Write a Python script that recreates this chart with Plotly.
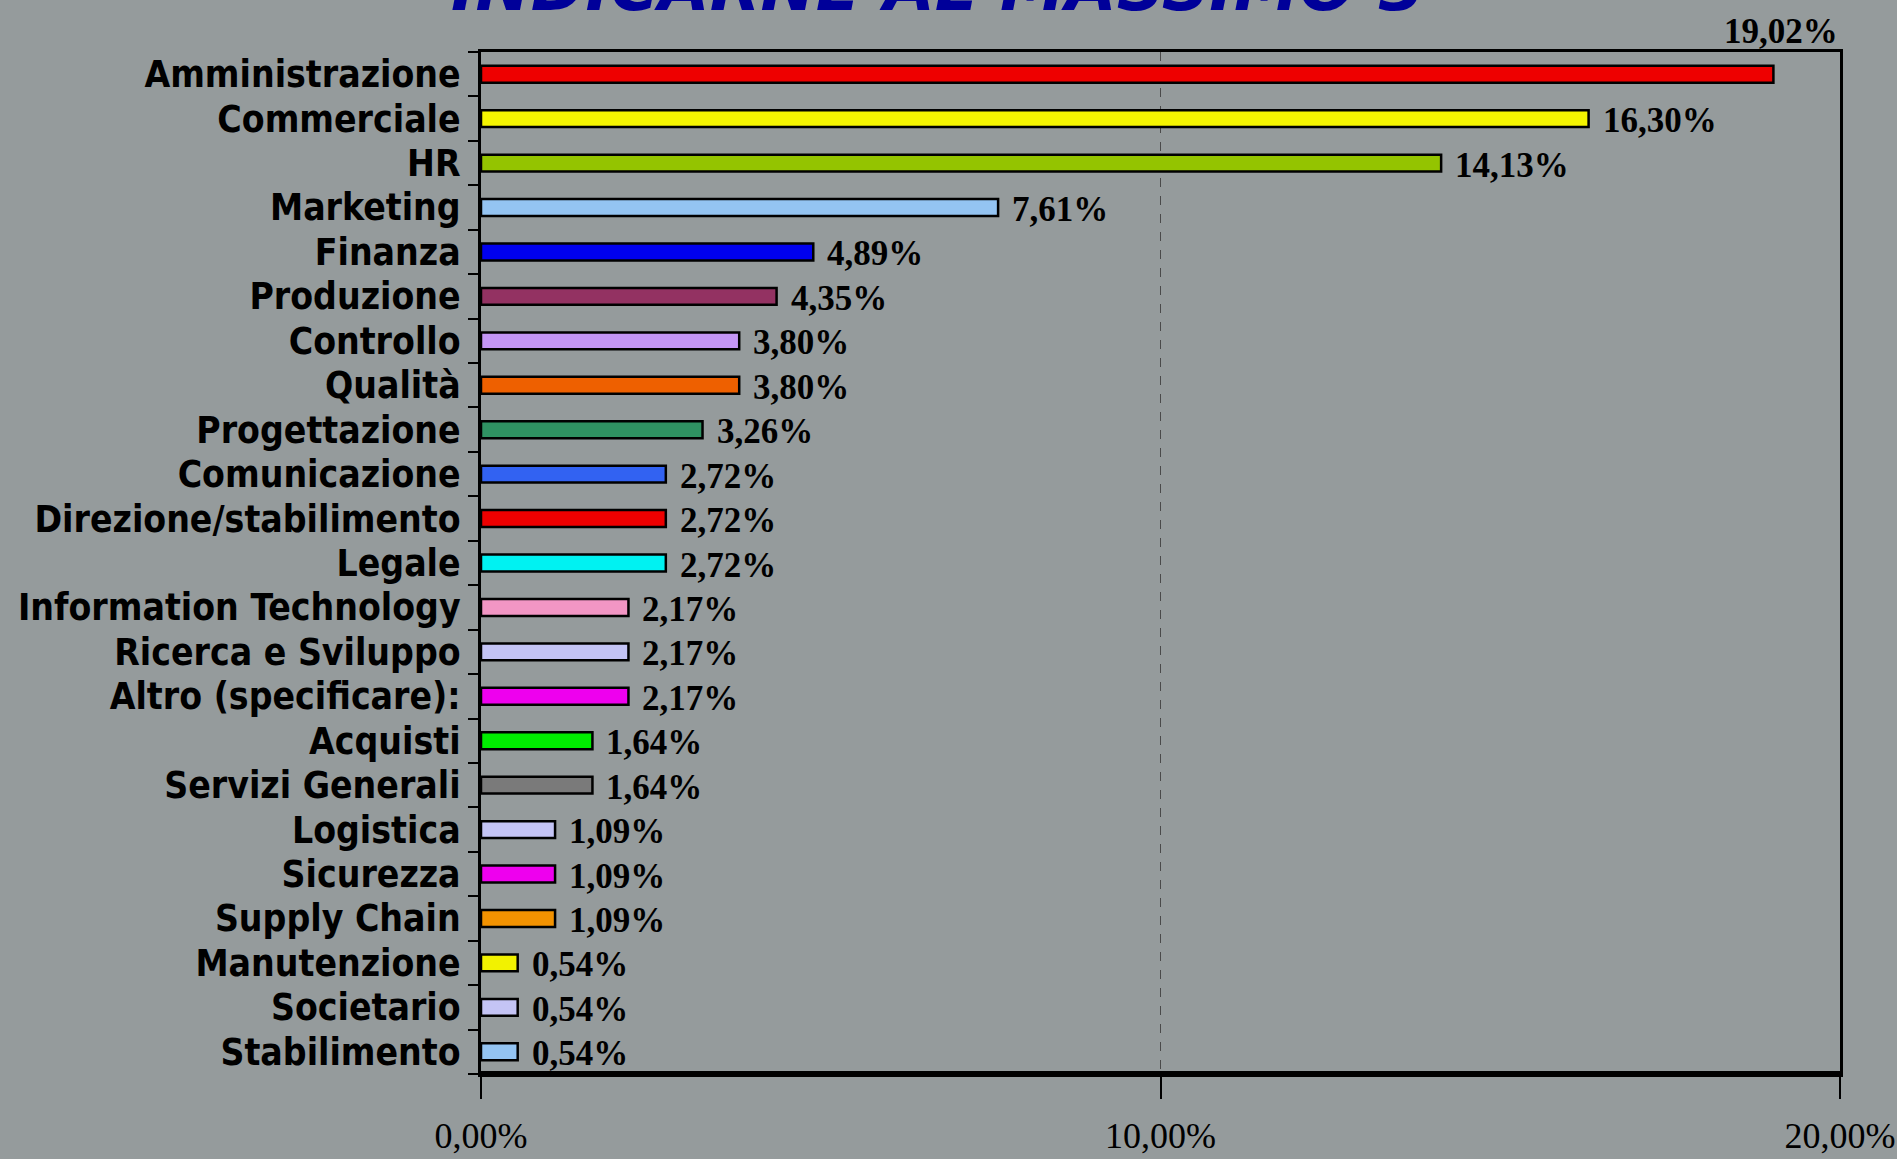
import plotly.graph_objects as go

categories = [
    "Amministrazione", "Commerciale", "HR", "Marketing", "Finanza", "Produzione",
    "Controllo", "Qualità", "Progettazione", "Comunicazione", "Direzione/stabilimento",
    "Legale", "Information Technology", "Ricerca e Sviluppo", "Altro (specificare):",
    "Acquisti", "Servizi Generali", "Logistica", "Sicurezza", "Supply Chain",
    "Manutenzione", "Societario", "Stabilimento",
]
values = [19.02, 16.30, 14.13, 7.61, 4.89, 4.35, 3.80, 3.80, 3.26, 2.72, 2.72, 2.72,
          2.17, 2.17, 2.17, 1.64, 1.64, 1.09, 1.09, 1.09, 0.54, 0.54, 0.54]
value_labels = ["19,02%", "16,30%", "14,13%", "7,61%", "4,89%", "4,35%", "3,80%", "3,80%",
                "3,26%", "2,72%", "2,72%", "2,72%", "2,17%", "2,17%", "2,17%", "1,64%",
                "1,64%", "1,09%", "1,09%", "1,09%", "0,54%", "0,54%", "0,54%"]
bar_colors = ["#EE0000", "#F5F500", "#94C400", "#94C4F2", "#0000EE", "#933262",
              "#C496F5", "#EE6000", "#2F9262", "#3262F2", "#EE0000", "#00F2F2",
              "#F296C4", "#C4C4F5", "#EE00EE", "#00EE00", "#7A7A7A", "#C4C4F5",
              "#EE00EE", "#F29200", "#F2F200", "#C4C4F5", "#94C4F2"]
x_ticks = [0, 10, 20]
x_tick_labels = ["0,00%", "10,00%", "20,00%"]
title_text = "INDICARNE AL MASSIMO 3"

BG = "rgb(149,155,156)"
W, H = 1897, 1159
L, R, T, B = 481, 57, 52, 85

fig = go.Figure()
fig.add_trace(go.Bar(
    x=values, y=categories, orientation="h",
    marker=dict(color=bar_colors, line=dict(color="black", width=2.5)),
    width=0.38, hoverinfo="x+y",
))

label_font = dict(family="Liberation Serif", size=35, color="black", weight="bold")
annotations = []
for i, (v, c, t) in enumerate(zip(values, categories, value_labels)):
    if i == 0:
        annotations.append(dict(
            x=x_ticks[-1], y=1, xref="x", yref="paper", text=t, showarrow=False,
            xanchor="right", yanchor="bottom", yshift=-1, font=label_font,
        ))
    else:
        annotations.append(dict(
            x=v, y=c, xref="x", yref="y", text=t, showarrow=False,
            xanchor="left", yanchor="middle", xshift=12, yshift=-2, font=label_font,
        ))

annotations.append(dict(
    x=0.336, y=1, xref="paper", yref="paper", text=title_text, showarrow=False,
    xanchor="center", yanchor="bottom", yshift=24,
    font=dict(family="DejaVu Sans", size=66, color="#000099", weight="bold", style="italic"),
))

fig.update_layout(
    width=W, height=H,
    margin=dict(l=L, r=R, t=T, b=B, autoexpand=False),
    paper_bgcolor=BG, plot_bgcolor=BG,
    showlegend=False,
    annotations=annotations,
    shapes=[dict(type="line", xref="paper", yref="paper", x0=0, x1=1, y0=0, y1=0,
                 line=dict(color="black", width=6), layer="above")],
)
fig.update_xaxes(
    range=[0, 20], tickmode="array", tickvals=x_ticks, ticktext=x_tick_labels,
    ticklabeloverflow="allow", automargin=False,
    showgrid=True, gridcolor="#4a4a4a", griddash="dash", gridwidth=1,
    zeroline=False,
    showline=True, linecolor="black", linewidth=3, mirror=True,
    ticks="outside", ticklen=22, tickwidth=2, tickcolor="black",
    ticklabelstandoff=6,
    tickfont=dict(family="Liberation Serif", size=36, color="black"),
)
fig.update_yaxes(
    autorange="reversed", categoryorder="array", categoryarray=categories,
    tickmode="array", tickvals=categories, automargin=False,
    showgrid=False, zeroline=False,
    showline=True, linecolor="black", linewidth=3, mirror=True,
    ticks="outside", ticklen=10, tickwidth=2, tickcolor="black", tickson="boundaries",
    ticklabelstandoff=10,
    tickfont=dict(family="DejaVu Sans Condensed", size=37, color="black", weight="bold"),
)

fig.write_html(
    "out.html",
    config={"displayModeBar": False},
    post_script="document.body.style.margin='0';document.body.style.background='%s';" % BG,
)
